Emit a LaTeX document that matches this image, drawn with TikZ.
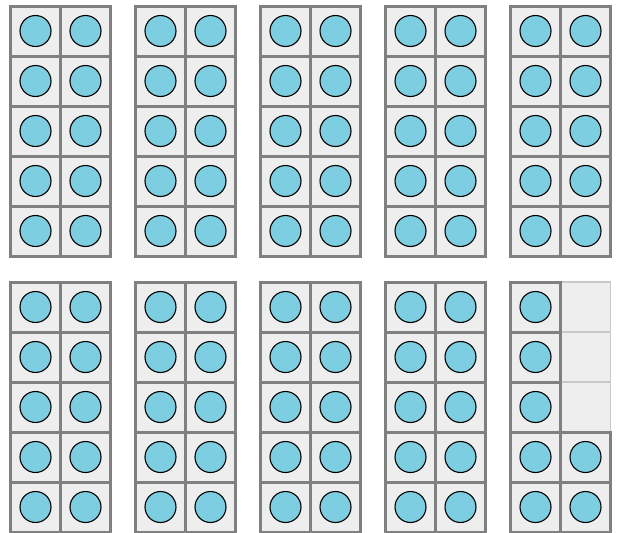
\documentclass[tikz,border=0pt]{standalone}
\usepackage{tikz}
\usetikzlibrary{positioning}

\definecolor{celda}{HTML}{EEEEEE}
\definecolor{borde}{HTML}{808080}
\definecolor{bordeclaro}{HTML}{C8C8C8}
\definecolor{ficha}{HTML}{7ECEE1}

\tikzset{
    casilla/.style={draw=borde, fill=celda, line width=3pt, minimum size=50pt, inner sep=0pt},
    vacia/.style={draw=bordeclaro, fill=celda, line width=1.4pt, minimum size=50pt, inner sep=0pt},
    contador/.style={circle, draw=black, fill=ficha, line width=1.1pt, minimum size=31pt, inner sep=0pt}
}

\begin{document}
\begin{tikzpicture}[x=1pt, y=-1pt]
    % Lienzo
    \useasboundingbox (0,0) rectangle (619,533);

    % Nueve marcos llenos
    \foreach \f in {1,...,9} {
        \pgfmathtruncatemacro{\col}{mod(\f-1,5)}
        \pgfmathtruncatemacro{\fil}{div(\f-1,5)}
        \foreach \i in {0,1} {
            \foreach \j in {0,...,4} {
                \node[casilla] (c\f-\i-\j) at ({35.5+125*\col+50*\i}, {31+276*\fil+50*\j}) {};
                \node[contador] (d\f-\i-\j) at (c\f-\i-\j) {};
            }
        }
    }

    % Marco 10: siete contadores
    \foreach \j in {0,1,2}
        \node[vacia] (c10-1-\j) at ({35.5+125*4+50}, {31+276+50*\j}) {};
    \foreach \j in {0,...,4}
        \node[casilla] (c10-0-\j) at ({35.5+125*4}, {31+276+50*\j}) {};
    \foreach \j in {3,4}
        \node[casilla] (c10-1-\j) at ({35.5+125*4+50}, {31+276+50*\j}) {};
    \foreach \j in {0,...,4}
        \node[contador] (d10-0-\j) at (c10-0-\j) {};
    \foreach \j in {3,4}
        \node[contador] (d10-1-\j) at (c10-1-\j) {};
\end{tikzpicture}
\end{document}
